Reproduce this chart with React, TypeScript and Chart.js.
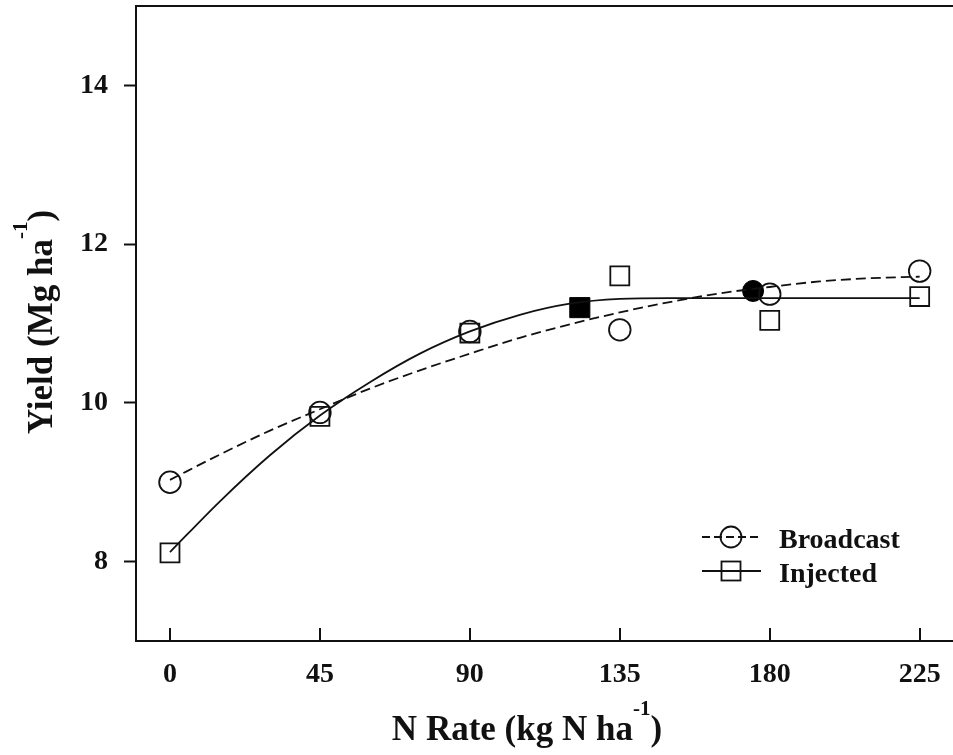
import React, { useEffect, useRef } from 'react';
import { Chart, registerables } from 'chart.js';

Chart.register(...registerables);

// ---- data ----
const nRates = [0, 45, 90, 135, 180, 225];
const broadcastYield = [9.0, 9.88, 10.9, 10.92, 11.37, 11.66];
const injectedYield = [8.11, 9.83, 10.88, 11.6, 11.04, 11.34];

// fitted response curves
const broadcastFitX = [0, 15, 30, 45, 60, 75, 90, 105, 120, 135, 150, 165, 180, 195, 210, 225];
const broadcastFitY = [9.03, 9.35, 9.65, 9.92, 10.18, 10.41, 10.62, 10.82, 10.99, 11.14, 11.27, 11.38, 11.46, 11.53, 11.57, 11.59];
const injectedFitX = [0, 15, 30, 45, 60, 75, 90, 105, 120, 135, 150, 225];
const injectedFitY = [8.12, 8.76, 9.34, 9.84, 10.26, 10.62, 10.9, 11.11, 11.25, 11.31, 11.32, 11.32];

// optimum N rates (filled symbols)
const broadcastOptX = [175];
const broadcastOptY = [11.41];
const injectedOptX = [123];
const injectedOptY = [11.2];

const xTicks = [0, 45, 90, 135, 180, 225];
const yTicks = [8, 10, 12, 14];

const seriesNames = ['Broadcast', 'Injected'];
const xTitleMain = 'N Rate (kg N ha';
const yTitleMain = 'Yield (Mg ha';
const titleSup = '-1';
const titleClose = ')';

const FONT = "'Liberation Serif', 'Times New Roman', serif";
const INK = '#111';
const LW = 1.8;

const toPts = (xs: number[], ys: number[]) => xs.map((x, i) => ({ x, y: ys[i] }));

const zeroPad = (s: any) => {
  s.paddingTop = 0;
  s.paddingBottom = 0;
  s.paddingLeft = 0;
  s.paddingRight = 0;
};

const decorPlugin = {
  id: 'decor',
  afterDraw(chart: any) {
    const { ctx, chartArea } = chart;
    const xs = chart.scales.x;
    ctx.save();
    // top frame line
    ctx.strokeStyle = INK;
    ctx.lineWidth = 2;
    ctx.beginPath();
    ctx.moveTo(chartArea.left, chartArea.top);
    ctx.lineTo(chartArea.right, chartArea.top);
    ctx.stroke();
    // inward x ticks
    ctx.beginPath();
    for (const v of xTicks) {
      const px = Math.round(xs.getPixelForValue(v));
      ctx.moveTo(px, chartArea.bottom);
      ctx.lineTo(px, chartArea.bottom - 13);
    }
    ctx.stroke();

    // legend
    const lx0 = 702;
    const lx1 = 761;
    const mx = 731;
    const y1 = 537;
    const y2 = 571;
    ctx.lineWidth = LW;
    ctx.setLineDash([8, 4]);
    ctx.beginPath();
    ctx.moveTo(lx0, y1);
    ctx.lineTo(lx1, y1);
    ctx.stroke();
    ctx.setLineDash([]);
    ctx.beginPath();
    ctx.arc(mx, y1, 10.5, 0, Math.PI * 2);
    ctx.stroke();
    ctx.beginPath();
    ctx.moveTo(lx0, y2);
    ctx.lineTo(lx1, y2);
    ctx.stroke();
    ctx.strokeRect(mx - 9.5, y2 - 9.5, 19, 19);
    ctx.fillStyle = INK;
    ctx.font = `bold 28px ${FONT}`;
    ctx.textAlign = 'left';
    ctx.textBaseline = 'alphabetic';
    ctx.fillText(seriesNames[0], 779, 548);
    ctx.fillText(seriesNames[1], 779, 582);

    // axis titles with superscripts
    const size = 35;
    const supSize = 21;
    const raise = 25;
    const mainFont = `bold ${size}px ${FONT}`;
    const supFont = `bold ${supSize}px ${FONT}`;
    const drawTitle = (main: string, cx: number, base: number) => {
      ctx.font = mainFont;
      const w1 = ctx.measureText(main).width;
      const w3 = ctx.measureText(titleClose).width;
      ctx.font = supFont;
      const w2 = ctx.measureText(titleSup).width;
      let x = cx - (w1 + w2 + w3) / 2;
      ctx.font = mainFont;
      ctx.fillText(main, x, base);
      x += w1;
      ctx.font = supFont;
      ctx.fillText(titleSup, x, base - raise);
      x += w2;
      ctx.font = mainFont;
      ctx.fillText(titleClose, x, base);
    };
    ctx.textAlign = 'left';
    drawTitle(xTitleMain, 527, 740);
    ctx.save();
    ctx.translate(52, 322);
    ctx.rotate(-Math.PI / 2);
    drawTitle(yTitleMain, 0, 0);
    ctx.restore();
    ctx.restore();
  },
};

export default function App() {
  const ref = useRef<HTMLCanvasElement | null>(null);
  useEffect(() => {
    document.body.style.margin = '0';
    const canvas = ref.current;
    if (!canvas) return;
    const tickFont = { family: FONT, size: 28, weight: 'bold' as const };
    const chart = new Chart(canvas, {
      type: 'scatter',
      data: {
        datasets: [
          {
            label: seriesNames[0] + ' fit',
            data: toPts(broadcastFitX, broadcastFitY),
            showLine: true,
            borderColor: INK,
            borderWidth: LW,
            borderDash: [10, 5],
            pointRadius: 0,
            cubicInterpolationMode: 'monotone',
            fill: false,
          },
          {
            label: seriesNames[1] + ' fit',
            data: toPts(injectedFitX, injectedFitY),
            showLine: true,
            borderColor: INK,
            borderWidth: LW,
            pointRadius: 0,
            cubicInterpolationMode: 'monotone',
            fill: false,
          },
          {
            label: seriesNames[0],
            data: toPts(nRates, broadcastYield),
            pointStyle: 'circle',
            pointRadius: 10.8,
            pointBorderWidth: LW,
            pointBorderColor: INK,
            pointBackgroundColor: 'rgba(0,0,0,0)',
          },
          {
            label: seriesNames[1],
            data: toPts(nRates, injectedYield),
            pointStyle: 'rect',
            pointRadius: 13.4,
            pointBorderWidth: LW,
            pointBorderColor: INK,
            pointBackgroundColor: 'rgba(0,0,0,0)',
          },
          {
            label: seriesNames[0] + ' optimum',
            data: toPts(broadcastOptX, broadcastOptY),
            pointStyle: 'circle',
            pointRadius: 10.5,
            pointBorderWidth: 1,
            pointBorderColor: '#000',
            pointBackgroundColor: '#000',
          },
          {
            label: seriesNames[1] + ' optimum',
            data: toPts(injectedOptX, injectedOptY),
            pointStyle: 'rect',
            pointRadius: 14.2,
            pointBorderWidth: 1,
            pointBorderColor: '#000',
            pointBackgroundColor: '#000',
          },
        ],
      },
      options: {
        responsive: false,
        animation: false,
        layout: { autoPadding: false, padding: { top: 6, right: 0, left: 0, bottom: 0 } },
        plugins: {
          legend: { display: false },
          tooltip: { enabled: false },
          title: { display: false },
        },
        scales: {
          x: {
            type: 'linear',
            min: -10.2,
            max: 235,
            afterBuildTicks: (s: any) => {
              s.ticks = xTicks.map((v) => ({ value: v }));
            },
            afterFit: (s: any) => {
              s.height = 114;
              zeroPad(s);
            },
            grid: { display: true, drawOnChartArea: false, drawTicks: false },
            border: { display: true, color: INK, width: 2 },
            ticks: {
              font: tickFont,
              color: INK,
              padding: 17,
              maxRotation: 0,
              autoSkip: false,
            },
          },
          y: {
            type: 'linear',
            min: 7,
            max: 15,
            afterBuildTicks: (s: any) => {
              s.ticks = yTicks.map((v) => ({ value: v }));
            },
            afterFit: (s: any) => {
              s.width = 136;
              zeroPad(s);
            },
            grid: {
              display: true,
              drawOnChartArea: false,
              drawTicks: true,
              tickLength: 12,
              tickWidth: 2,
              tickColor: INK,
            },
            border: { display: true, color: INK, width: 2 },
            ticks: { font: tickFont, color: INK, padding: 16, autoSkip: false },
          },
        },
      },
      plugins: [decorPlugin],
    } as any);
    return () => chart.destroy();
  }, []);
  return <canvas ref={ref} width={953} height={755} style={{ display: 'block' }} />;
}
